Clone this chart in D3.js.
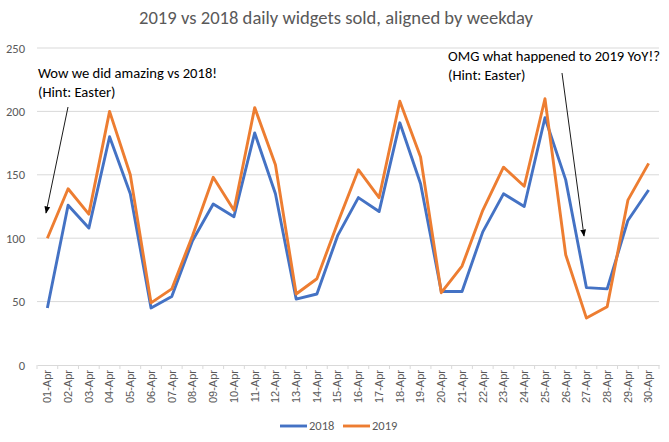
<!DOCTYPE html>
<html>
<head>
<meta charset="utf-8">
<script src="https://cdn.jsdelivr.net/npm/d3@7"></script>
<style>
  body { margin: 0; background: #fff; }
  text { font-family: Calibri, Carlito, Lato, "Open Sans", sans-serif; }
</style>
</head>
<body>
<div id="chart"></div>
<script>
'use strict'

// days of April, aligned by weekday
const days = ['01-Apr','02-Apr','03-Apr','04-Apr','05-Apr','06-Apr','07-Apr','08-Apr','09-Apr','10-Apr',
    '11-Apr','12-Apr','13-Apr','14-Apr','15-Apr','16-Apr','17-Apr','18-Apr','19-Apr','20-Apr',
    '21-Apr','22-Apr','23-Apr','24-Apr','25-Apr','26-Apr','27-Apr','28-Apr','29-Apr','30-Apr']

const sales2018 = [45, 126, 108, 180, 135, 45, 54, 98, 127, 117,
    183, 135, 52, 56, 102, 132, 121, 191, 143, 58,
    58, 105, 135, 125, 195, 146, 61, 60, 114, 138]

const sales2019 = [100, 139, 119, 200, 150, 49, 60, 102, 148, 122,
    203, 158, 56, 68, 112, 154, 132, 208, 164, 57,
    78, 122, 156, 141, 210, 87, 37, 46, 130, 159]

const yTicks = [0, 50, 100, 150, 200, 250]

const series = [
    { name: '2018', values: sales2018, color: '#4472C4' },
    { name: '2019', values: sales2019, color: '#ED7D31' }
]

////////////////////////////////////
//////////// svg setup /////////////
////////////////////////////////////

const svgWidth = 669
const svgHeight = 442
const margin = { left: 37, right: 10, top: 48, bottom: 77 }
const width = svgWidth - margin.left - margin.right
const height = svgHeight - margin.top - margin.bottom

const svg = d3.select('#chart')
    .append('svg')
    .attr('width', svgWidth)
    .attr('height', svgHeight)

const g = svg.append('g')
    .attr('transform', `translate(${margin.left},${margin.top})`)

const x = d3.scaleBand().domain(days).range([0, width])
const y = d3.scaleLinear().domain([0, 250]).range([height, 0])
const cx = d => x(d) + x.bandwidth() / 2

// title
svg.append('text')
    .attr('x', 336)
    .attr('y', 24)
    .attr('text-anchor', 'middle')
    .attr('font-size', 18.6)
    .attr('fill', '#595959')
    .text('2019 vs 2018 daily widgets sold, aligned by weekday')

// gridlines
g.append('g')
    .selectAll('line')
    .data(yTicks.filter(t => t > 0))
    .join('line')
    .attr('x1', 0).attr('x2', width)
    .attr('y1', d => y(d)).attr('y2', d => y(d))
    .attr('stroke', '#d9d9d9')
    .attr('stroke-width', 1)

// y axis labels
const yAxis = g.append('g')
    .call(d3.axisLeft(y).tickValues(yTicks).tickSize(0).tickPadding(12))
yAxis.select('.domain').remove()
yAxis.selectAll('text')
    .attr('fill', '#595959')
    .attr('font-size', 12.5)
    .style('font-family', 'Calibri, Carlito, Lato, sans-serif')

// x axis
const xAxis = g.append('g')
    .attr('transform', `translate(0,${height})`)
    .call(d3.axisBottom(x).tickSize(0))
xAxis.select('.domain').attr('stroke', '#d9d9d9')
xAxis.selectAll('.tick line').remove()
xAxis.selectAll('.tick text')
    .attr('transform', 'rotate(-90)')
    .attr('text-anchor', 'end')
    .attr('x', -5)
    .attr('y', 0)
    .attr('dy', '0.35em')
    .attr('fill', '#595959')
    .attr('font-size', 11)
    .style('font-family', '"Liberation Sans", Arial, sans-serif')

// tick marks between categories
g.append('g')
    .selectAll('line')
    .data(d3.range(days.length + 1))
    .join('line')
    .attr('x1', i => i * x.step()).attr('x2', i => i * x.step())
    .attr('y1', height).attr('y2', height + 4)
    .attr('stroke', '#d9d9d9')

// lines
const line = d3.line()
    .x((d, i) => cx(days[i]))
    .y(d => y(d))

g.append('g')
    .selectAll('path')
    .data(series)
    .join('path')
    .attr('d', d => line(d.values))
    .attr('fill', 'none')
    .attr('stroke', d => d.color)
    .attr('stroke-width', 2.9)
    .attr('stroke-linejoin', 'round')

// annotations
svg.append('defs').append('marker')
    .attr('id', 'arrow')
    .attr('viewBox', '0 0 10 10')
    .attr('refX', 9).attr('refY', 5)
    .attr('markerWidth', 8).attr('markerHeight', 8)
    .attr('orient', 'auto')
    .append('path')
    .attr('d', 'M0,1 L10,5 L0,9 Z')
    .attr('fill', '#000')

const notes = [
    { lines: ['Wow we did amazing vs 2018!', '(Hint: Easter)'], tx: 38, ty: 78, from: [68, 107], to: [46, 213] },
    { lines: ['OMG what happened to 2019 YoY!?', '(Hint: Easter)'], tx: 448, ty: 61, from: [562, 73], to: [584, 236] }
]

notes.forEach(n => {
    const t = svg.append('text')
        .attr('x', n.tx).attr('y', n.ty)
        .attr('font-size', 14.6)
        .attr('fill', '#000')
    n.lines.forEach((l, i) => {
        t.append('tspan').attr('x', n.tx).attr('dy', i === 0 ? 0 : 19).text(l)
    })
    svg.append('line')
        .attr('x1', n.from[0]).attr('y1', n.from[1])
        .attr('x2', n.to[0]).attr('y2', n.to[1])
        .attr('stroke', '#000')
        .attr('stroke-width', 0.9)
        .attr('marker-end', 'url(#arrow)')
})

// legend
const legend = svg.append('g').attr('transform', 'translate(280,426)')
const item = legend.selectAll('g')
    .data(series)
    .join('g')
    .attr('transform', (d, i) => `translate(${i * 63},0)`)
item.append('line')
    .attr('x1', 0).attr('x2', 27)
    .attr('stroke', d => d.color)
    .attr('stroke-width', 2.9)
item.append('text')
    .attr('x', 29)
    .attr('dy', '0.35em')
    .attr('font-size', 12.5)
    .attr('fill', '#595959')
    .text(d => d.name)
</script>
</body>
</html>
